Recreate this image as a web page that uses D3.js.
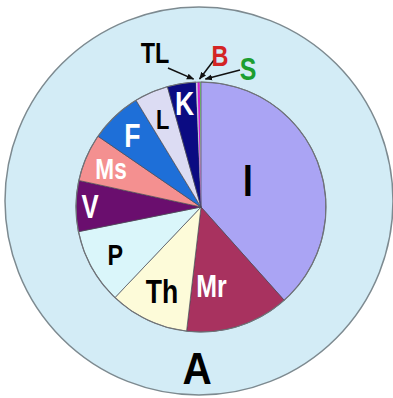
<!DOCTYPE html>
<html>
<head>
<meta charset="utf-8">
<script src="https://cdn.jsdelivr.net/npm/d3@7"></script>
<style>
  body { margin: 0; background: #fff; }
  svg text { font-family: "Liberation Sans", Arial, sans-serif; font-weight: bold; }
</style>
</head>
<body>
<div id="chart"></div>
<script>
// slice categories, clockwise from 12 o'clock
var categories = ["I", "Mr", "Th", "P", "V", "Ms", "F", "L", "K", "TL", "B", "S"];
// share of each slice (%)
var shares = [38.6, 13.5, 10.3, 9.8, 6.6, 6.2, 6.75, 4.4, 3.7, 0.2, 0.3, 0.15];
var outerLabel = "A";

var colors = ["#aaa4f4", "#a8325f", "#fdfbd9", "#daf6fa", "#6a0e6e", "#f49090",
              "#1e6fd8", "#dcdcf3", "#0b0b82", "#c8c8e8", "#d21ed2", "#6aa86a"];
var textColors = {I: "#000", Mr: "#fff", Th: "#000", P: "#000", V: "#fff", Ms: "#fff",
                  F: "#fff", L: "#000", K: "#fff", TL: "#000", B: "#d42424", S: "#1c9e30"};
var fontSizes = {I: 45, Mr: 32, Th: 34, P: 30, V: 33, Ms: 29, F: 34, L: 28, K: 34,
                 TL: 30, B: 30, S: 32};
// radial distance of label from pie centre, and angle nudge in degrees
var labelR = {I: 54, Mr: 79, Th: 92, P: 98, V: 111, Ms: 98, F: 100, L: 96, K: 106};
var labelNudge = {I: -9, Mr: 10};
// labels for the tiny slices sit outside with arrows
var callouts = {TL: [155, 52], B: [220, 55], S: [248, 68]};
var lineStart = {TL: [168, 68], B: [214, 60], S: [240, 70]};
var squeeze = 0.78; // the original lettering is condensed

var w = 393, h = 398;
var cx = 201, cy = 207, r = 125;

var svg = d3.select("#chart").append("svg")
    .attr("width", w)
    .attr("height", h);

svg.append("defs").append("marker")
    .attr("id", "arr")
    .attr("viewBox", "0 0 10 10")
    .attr("refX", 9).attr("refY", 5)
    .attr("markerWidth", 5).attr("markerHeight", 5)
    .attr("orient", "auto")
  .append("path")
    .attr("d", "M0,1L10,5L0,9z")
    .attr("fill", "#111");

// outer ring (A)
svg.append("circle")
    .attr("cx", 199).attr("cy", 201).attr("r", 194)
    .attr("fill", "#d3ecf6")
    .attr("stroke", "#7d8a90")
    .attr("stroke-width", 1.5);

svg.append("text")
    .attr("transform", "translate(197,368) scale(0.9,1)")
    .attr("text-anchor", "middle")
    .attr("dy", "0.36em")
    .attr("font-size", 45)
    .attr("fill", "#000")
    .text(outerLabel);

var data = categories.map(function(c, i) { return {name: c, value: shares[i], color: colors[i]}; });

var pie = d3.pie().sort(null).value(function(d) { return d.value; });
var arc = d3.arc().innerRadius(0).outerRadius(r);
var arcs = pie(data);

var g = svg.append("g").attr("transform", "translate(" + cx + "," + cy + ")");

g.selectAll("path")
    .data(arcs)
    .enter()
    .append("path")
    .attr("d", arc)
    .attr("fill", function(d) { return d.data.color; })
    .attr("stroke", function(d) { return d.data.value < 1 ? "none" : "#4a4a55"; })
    .attr("stroke-width", 0.7);

g.append("circle").attr("r", r)
    .attr("fill", "none")
    .attr("stroke", "#6f7378")
    .attr("stroke-width", 1.2);

function polar(a, rr) { return [Math.sin(a) * rr, -Math.cos(a) * rr]; }

// in-slice labels
g.selectAll("text.lab")
    .data(arcs.filter(function(d) { return labelR[d.data.name] != null; }))
    .enter()
    .append("text")
    .attr("class", "lab")
    .attr("transform", function(d) {
        var a = (d.startAngle + d.endAngle) / 2 + (labelNudge[d.data.name] || 0) * Math.PI / 180;
        var p = polar(a, labelR[d.data.name]);
        return "translate(" + p[0] + "," + p[1] + ") scale(" + squeeze + ",1)";
    })
    .attr("text-anchor", "middle")
    .attr("dy", "0.36em")
    .attr("font-size", function(d) { return fontSizes[d.data.name]; })
    .attr("fill", function(d) { return textColors[d.data.name]; })
    .text(function(d) { return d.data.name; });

// callout labels for tiny slices
var small = arcs.filter(function(d) { return callouts[d.data.name] != null; });

svg.selectAll("line.arrow")
    .data(small)
    .enter()
    .append("line")
    .attr("class", "arrow")
    .attr("x1", function(d) { return lineStart[d.data.name][0]; })
    .attr("y1", function(d) { return lineStart[d.data.name][1]; })
    .attr("x2", function(d) { return cx + polar((d.startAngle + d.endAngle) / 2, r + 3)[0] + (d.data.name == "TL" ? -3 : d.data.name == "S" ? 5 : 1); })
    .attr("y2", function(d) { return cy + polar((d.startAngle + d.endAngle) / 2, r + 3)[1]; })
    .attr("stroke", "#111")
    .attr("stroke-width", 1.5)
    .attr("marker-end", "url(#arr)");

svg.selectAll("text.call")
    .data(small)
    .enter()
    .append("text")
    .attr("class", "call")
    .attr("transform", function(d) {
        var p = callouts[d.data.name];
        return "translate(" + p[0] + "," + p[1] + ") scale(" + squeeze + ",1)";
    })
    .attr("text-anchor", "middle")
    .attr("dy", "0.36em")
    .attr("font-size", function(d) { return fontSizes[d.data.name]; })
    .attr("fill", function(d) { return textColors[d.data.name]; })
    .text(function(d) { return d.data.name; });
</script>
</body>
</html>
